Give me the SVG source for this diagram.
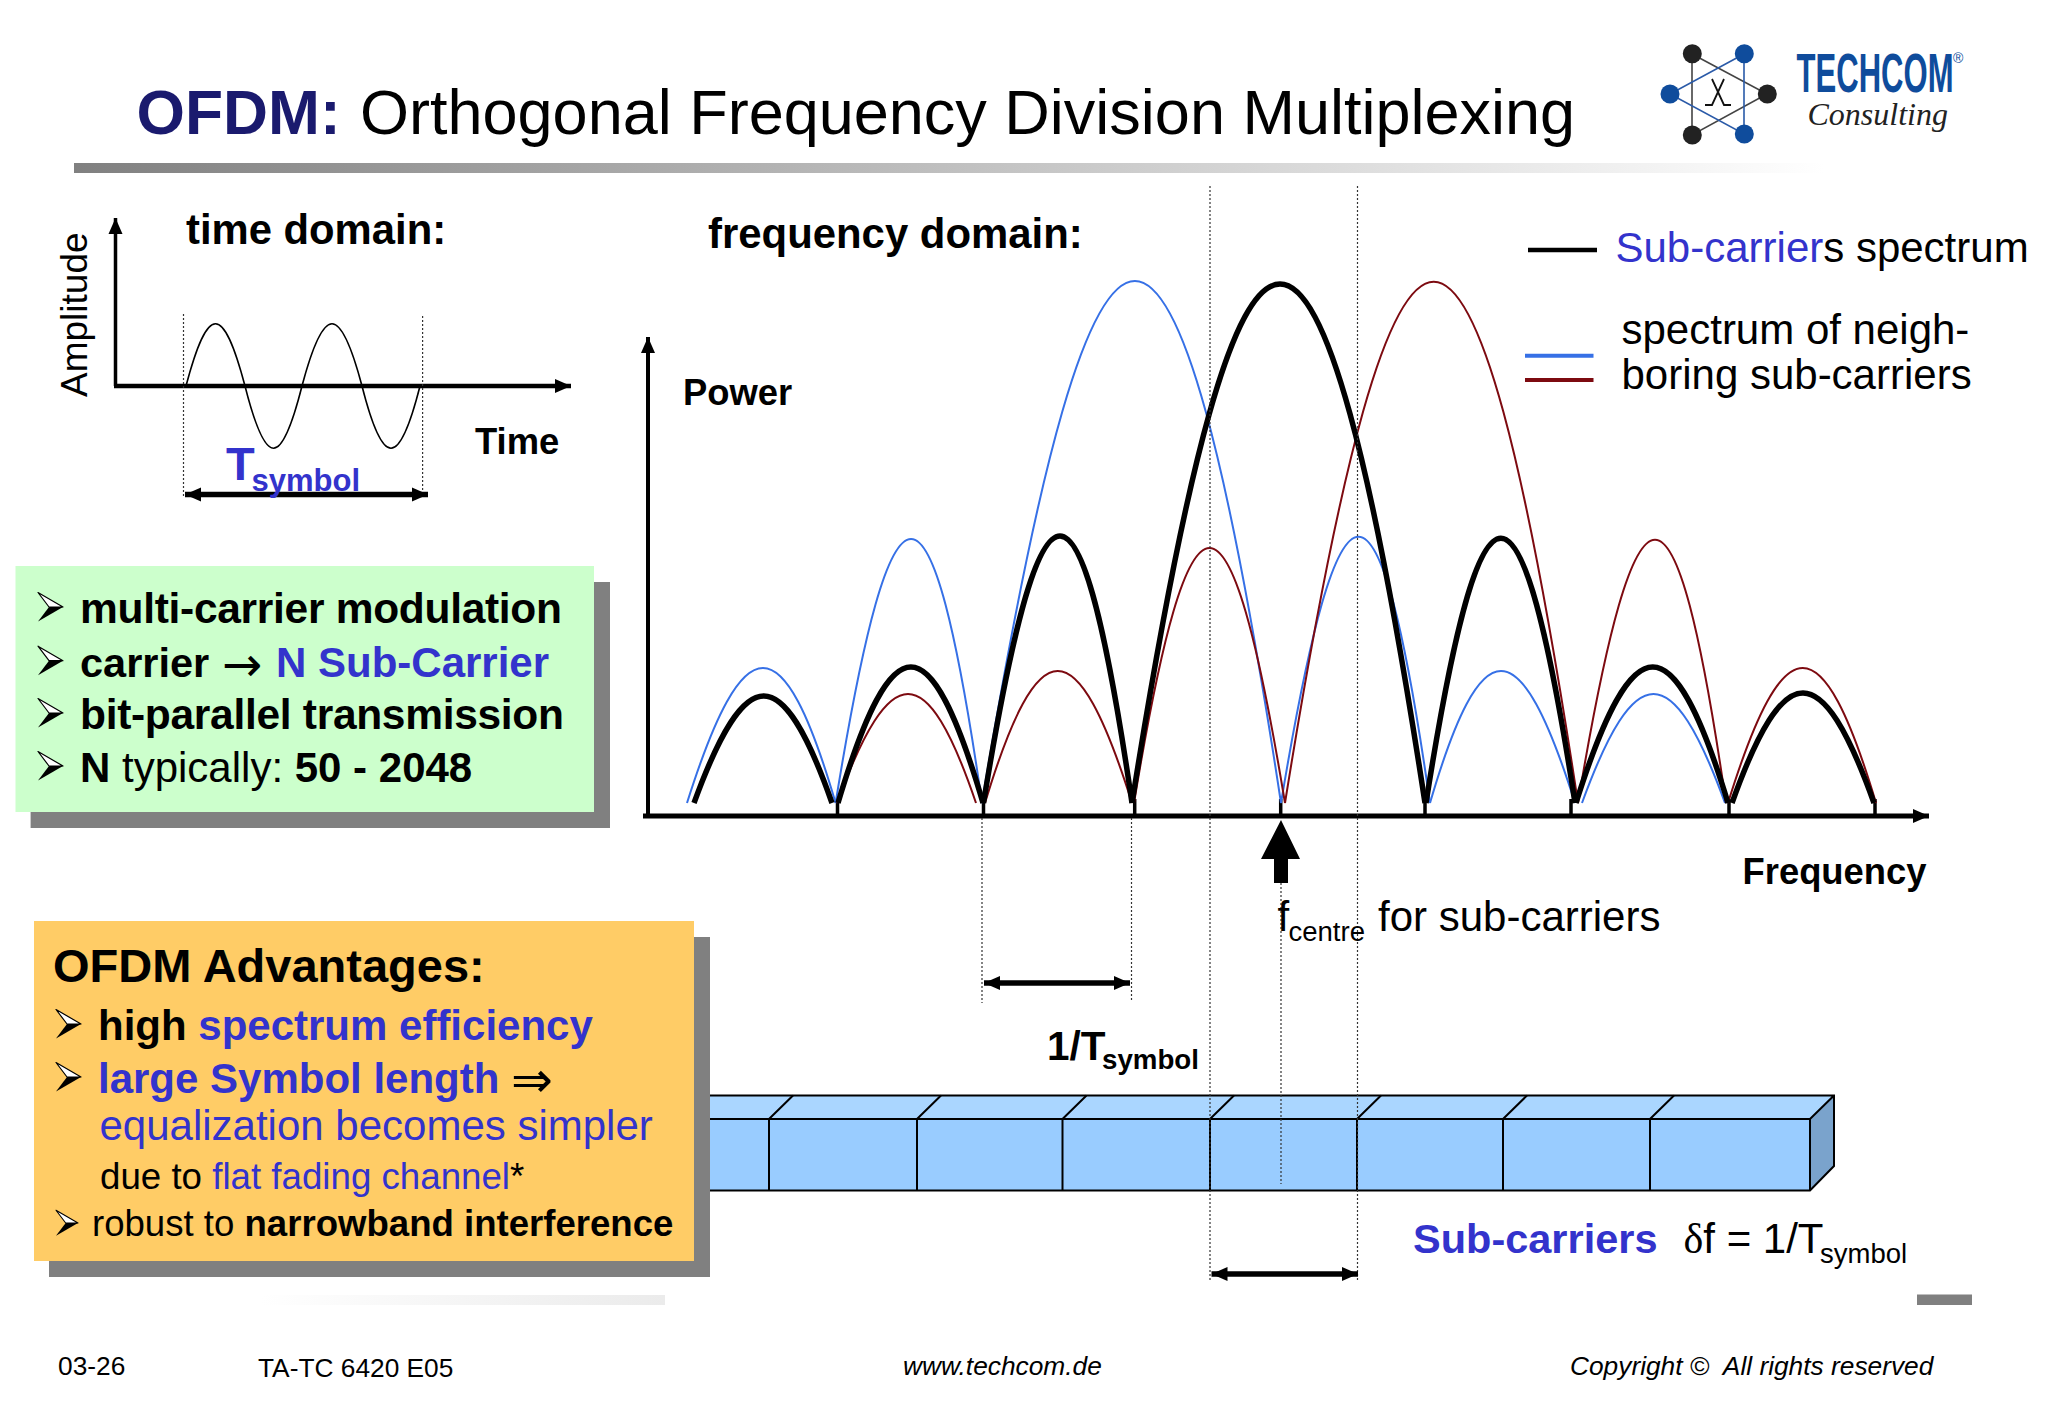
<svg xmlns="http://www.w3.org/2000/svg" width="2048" height="1418" viewBox="0 0 2048 1418">
<style>
text{font-family:"Liberation Sans",Arial,sans-serif;fill:#000}
.b{font-weight:bold}
.i{font-style:italic}
.blue{fill:#3333cc}
.r41{font-size:42px}
.b36{font-size:36.4px;font-weight:bold}
.foot{font-size:26.3px}
.dot{stroke:#333;stroke-width:1.2;stroke-dasharray:2 2;fill:none}
.ax{stroke:#000;fill:none}
.lb{stroke:#000;stroke-width:5.5;fill:none}
.lu{stroke:#3670e6;stroke-width:2;fill:none}
.lr{stroke:#7d0a10;stroke-width:2;fill:none}
.cub{stroke:#000;stroke-width:2}
.div{stroke:#000;stroke-width:2;fill:none}
</style>
<defs>
<linearGradient id="g1" x1="0" x2="1" y1="0" y2="0"><stop offset="0" stop-color="#808080"/><stop offset="1" stop-color="#fff"/></linearGradient>
<linearGradient id="g2" x1="0" x2="1" y1="0" y2="0"><stop offset="0" stop-color="#fff"/><stop offset="1" stop-color="#ebebeb"/></linearGradient>
<marker id="ah" viewBox="0 0 16 14" refX="16" refY="7" markerWidth="16" markerHeight="15" markerUnits="userSpaceOnUse" orient="auto-start-reverse"><path d="M0 0L16 7L0 14Z" fill="#000"/></marker>
<g id="bullet"><path d="M0 -14.5L25 0L11 0Z" fill="#fff" stroke="#000" stroke-width="1.2" stroke-linejoin="round"/><path d="M0 14.5L25 0L11 0Z" fill="#000"/></g>
</defs>
<rect width="2048" height="1418" fill="#fff"/>

<g id="title">
<rect x="74" y="163" width="1750" height="10" fill="url(#g1)"/>
<text x="136.5" y="134" font-size="62.3" class="b" style="fill:#1a1a6e">OFDM:</text>
<text x="360" y="134" font-size="63">Orthogonal Frequency Division Multiplexing</text>
</g>

<g id="logo">
<path d="M1692 54L1767 94L1692 135Z" fill="none" stroke="#444" stroke-width="1.6"/>
<path d="M1744 54L1670 94L1744 134Z" fill="none" stroke="#2a5aa8" stroke-width="1.6"/>
<g fill="#222"><circle cx="1692.3" cy="53.7" r="9.5"/><circle cx="1767.3" cy="94" r="9.5"/><circle cx="1692.3" cy="135" r="9.5"/></g>
<g fill="#0f4c9c"><circle cx="1744.3" cy="53.7" r="9.5"/><circle cx="1670" cy="94" r="9.5"/><circle cx="1744.3" cy="134" r="9.5"/></g>
<path d="M1712 79Q1718 92 1724 105H1731M1724 79Q1718 92 1712 105H1705" fill="none" stroke="#111" stroke-width="1.8"/>
<text transform="translate(1796.5 91.7) scale(.565 1)" font-size="55" class="b" style="fill:#0f4c9c">TECHCOM</text>
<text x="1953" y="63" font-size="14" style="fill:#0f4c9c">®</text>
<text x="1807.5" y="125" font-size="32" style="font-family:'Liberation Serif',serif;font-style:italic;fill:#222">Consulting</text>
</g>

<g id="cuboid">
<rect x="710" y="1119" width="1100" height="71.5" fill="#99ccff"/>
<path d="M710 1095.5H1834L1810 1119H710Z" fill="#aad6ff"/>
<path d="M1810 1119L1834 1095.5V1166L1810 1190.5Z" fill="#7aa3cc"/>
<path class="cub" fill="none" d="M710 1095.5H1834V1166L1810 1190.5H710M710 1119H1810L1834 1095.5M1810 1119V1190.5"/>
<path class="div" d="M769 1119V1190M917 1119V1190M1062.5 1119V1190M1210 1119V1190M1357 1119V1190M1503 1119V1190M1650 1119V1190M769 1119L793 1095.5M917 1119L941 1095.5M1062.5 1119L1086.5 1095.5M1210 1119L1234 1095.5M1357 1119L1381 1095.5M1503 1119L1527 1095.5M1650 1119L1674 1095.5"/>
</g>

<g id="connectors">
<path class="ax" stroke-width="3.5" marker-end="url(#ah)" d="M115.5 386V218"/>
<path class="ax" stroke-width="4.5" marker-end="url(#ah)" d="M114 386H571"/>
<path class="dot" d="M183.5 314V496M422.6 316V496"/>
<path d="M186 386C208 303 223 303 245 386C266 469 281 469 302 386C324 303 340 303 362 386C383 469 399 469 420 386" fill="none" stroke="#000" stroke-width="1.6"/>
<path class="ax" stroke-width="5.5" marker-start="url(#ah)" marker-end="url(#ah)" d="M185 494.5H428"/>
<path class="ax" stroke-width="4" marker-end="url(#ah)" d="M648 818V337"/>
<path class="ax" stroke-width="5" marker-end="url(#ah)" d="M643 816H1929"/>
<path class="ax" stroke-width="3.5" d="M837.5 799V816M983.5 799V816M1134.7 799V816M1280.7 799V816M1425 799V816M1571 799V816M1729 799V816M1875 799V816"/>
<g id="neighbour-blue" class="lu">
<path class="lu" d="M687 803C744 623 783 623 835.6 803"/>
<path class="lu" d="M835.6 803C892.6 451 931 451 982 803"/>
<path class="lu" d="M982 803C1097 107 1175 107 1281 803"/>
<path class="lu" d="M1281 803C1340 448 1379 448 1430 803"/>
<path class="lu" d="M1430 803C1481.6 627 1519.4 627 1575 803"/>
<path class="lu" d="M1582 803C1635 657.7 1672 657.7 1725 803"/>
</g>
<g id="neighbour-red">
<path class="lr" d="M837 803C890.4 657.7 926.6 657.7 976 803"/>
<path class="lr" d="M985 803C1038.4 627 1076.6 627 1132 803"/>
<path class="lr" d="M1134 803C1190 463 1229 463 1285 803"/>
<path class="lr" d="M1285 803C1396.4 108 1472.6 108 1578 803"/>
<path class="lr" d="M1578 803C1636.8 452 1675.2 452 1726 803"/>
<path class="lr" d="M1728 803C1783.8 623 1822.2 623 1876 803"/>
</g>
<g id="subcarrier-black">
<path class="lb" d="M694 803C746 660.3 782 660.3 832 803"/>
<path class="lb" d="M838 803C892 621.7 930 621.7 983 803"/>
<path class="lb" d="M983.5 803C1041.5 447 1080 447 1132 803"/>
<path class="lb" d="M1132 803C1242 111 1319 111 1425 803"/>
<path class="lb" d="M1426 803C1481.5 450 1520.5 450 1575 803"/>
<path class="lb" d="M1576 803C1633 621.7 1673 621.7 1728 803"/>
<path class="lb" d="M1732 803C1784.5 656.3 1821.5 656.3 1874 803"/>
</g>
<path class="dot" d="M982 818V1003M1131.5 818V1000M1210 186V1282M1357.5 186V1282M1281 883V1184"/>
<path d="M1274 883V859H1261L1281 820L1300 859H1288V883Z" fill="#000"/>
<path class="ax" stroke-width="5.5" marker-start="url(#ah)" marker-end="url(#ah)" d="M984 983H1130"/>
<path class="ax" stroke-width="5.5" marker-start="url(#ah)" marker-end="url(#ah)" d="M1211.5 1274H1358"/>
<path class="ax" stroke-width="4.5" d="M1528 250H1597"/>
<path d="M1525 355.7H1593.5" stroke="#3670e6" stroke-width="4" fill="none"/>
<path d="M1525 380H1593.5" stroke="#7d0a10" stroke-width="4" fill="none"/>
</g>

<g id="time-domain">
<text x="186" y="244" font-size="41.8" class="b">time domain:</text>
<text transform="translate(87 397) rotate(-90)" font-size="37">Amplitude</text>
<text x="475" y="453.5" class="b36">Time</text>
<text x="226" y="480" font-size="47" class="b blue">T</text>
<text x="251.5" y="491" font-size="31" class="b blue">symbol</text>
</g>

<g id="frequency-domain">
<text x="708" y="248" font-size="41.9" class="b">frequency domain:</text>
<text x="683" y="405" class="b36">Power</text>
<text x="1742.5" y="884" class="b36">Frequency</text>
<text x="1277.5" y="931" class="r41">f</text>
<text x="1288.5" y="941" font-size="27.5">centre</text>
<text x="1378" y="931" class="r41">for sub-carriers</text>
<text x="1047" y="1060" font-size="40.5" class="b">1/T</text>
<text x="1102" y="1069" font-size="27.7" class="b">symbol</text>
<text x="1413" y="1253" font-size="41.5" class="b blue">Sub-carriers</text>
<text x="1683.5" y="1253" class="r41"><tspan style="font-family:'Liberation Serif',serif">δ</tspan>f = 1/T</text>
<text x="1820" y="1263" font-size="27.5">symbol</text>
</g>

<g id="legend">
<text x="1615.5" y="261.5" class="r41"><tspan class="blue">Sub-carrier</tspan>s spectrum</text>
<text x="1621.5" y="344" class="r41">spectrum of neigh-</text>
<text x="1621.5" y="389" class="r41">boring sub-carriers</text>
</g>

<g id="green-box">
<rect x="30.6" y="582" width="579.4" height="246" fill="#808080"/>
<rect x="15.5" y="566" width="578.5" height="246" fill="#ccffcc"/>
<use href="#bullet" transform="translate(38 607)"/>
<use href="#bullet" transform="translate(38 660.7)"/>
<use href="#bullet" transform="translate(38 713)"/>
<use href="#bullet" transform="translate(38 766)"/>
<text x="80" y="623" font-size="42.5" class="b" textLength="482">multi-carrier modulation</text>
<text x="80" y="676.5" font-size="41.5" class="b">carrier <tspan x="222" y="681" style="font-family:'DejaVu Sans',sans-serif;font-weight:normal;font-size:48px">→</tspan> <tspan x="276" y="676.5" class="blue" style="font-size:42px">N Sub-Carrier</tspan></text>
<text x="80" y="729" font-size="42.5" class="b" textLength="484">bit-parallel transmission</text>
<text x="80" y="782" font-size="42"><tspan class="b">N</tspan> typically: <tspan class="b">50 - 2048</tspan></text>
</g>

<g id="orange-box">
<rect x="49" y="937" width="661" height="340" fill="#808080"/>
<rect x="34" y="921" width="660" height="340" fill="#ffcc66"/>
<text x="53" y="982" font-size="47" class="b">OFDM Advantages:</text>
<use href="#bullet" transform="translate(56 1024)"/>
<use href="#bullet" transform="translate(56 1077)"/>
<use href="#bullet" transform="translate(56 1223) scale(.88)"/>
<text x="98" y="1040" class="r41 b">high <tspan class="blue">spectrum efficiency</tspan></text>
<text x="98" y="1093" class="r41"><tspan class="b blue">large Symbol length</tspan> <tspan x="511" y="1097" style="font-family:'DejaVu Sans',sans-serif;font-size:50px">⇒</tspan></text>
<text x="99.5" y="1140" class="r41 blue">equalization becomes simpler</text>
<text x="100" y="1189" font-size="36.7">due to <tspan class="blue">flat fading channel</tspan>*</text>
<text x="92" y="1236" font-size="36.6">robust to <tspan class="b">narrowband interference</tspan></text>
</g>

<g id="footer">
<rect x="260" y="1295" width="405" height="10" fill="url(#g2)"/>
<rect x="1917" y="1294.5" width="55" height="10.5" fill="#808080"/>
<text x="58" y="1375" font-size="26.3">03-26</text>
<text x="258" y="1376.5" font-size="26.3">TA-TC 6420 E05</text>
<text x="903" y="1375" class="foot i">www.techcom.de</text>
<text x="1570" y="1375" class="foot i" xml:space="preserve">Copyright ©  All rights reserved</text>
</g>
</svg>
